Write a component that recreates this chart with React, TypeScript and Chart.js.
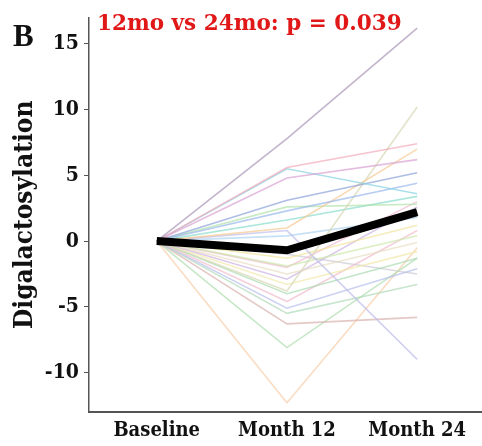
import { useEffect, useRef } from 'react';
import { Chart, registerables } from 'chart.js';
Chart.register(...registerables);

const timepoints = ['Baseline', 'Month 12', 'Month 24'];
const yTicks = [-10, -5, 0, 5, 10, 15];
const BASELINE = 0;
const month12 = [7.8, 5.6, 4.8, 5.5, 3.1, 2.3, 1.0, -3.8, 2.6, 1.6, 0.8, -1.3, -1.9, -2.5, -2.9, -3.3, -4.0, -4.6, -5.1, -5.5, -6.3, -8.1, -12.3, 0.4, -2.0, -1.0];
const month24 = [16.2, 7.4, 6.2, 3.6, 5.2, 4.4, 7.0, 10.2, 2.8, 3.4, -9.0, 1.2, 0.4, -0.1, 2.6, -0.8, -1.3, 0.8, -2.1, -3.3, -5.8, -1.3, -0.5, 1.8, 3.0, -2.5];
const lineColors = ['#a592b5', '#f2a8b8', '#d8a0d4', '#86d2e2', '#8a9fd8', '#98b6ea', '#f5c890', '#d6d6b4', '#b0e2a8', '#88dccc', '#bcbcea', '#f0e49a', '#cce8a8', '#e8dcc0', '#cbb0e2', '#f0e8a8', '#a8dab0', '#f0bccc', '#b4bcea', '#b0dab8', '#d8b0ac', '#acdcac', '#f8cca8', '#acd2f0', '#f0b8d4', '#cacad2'];
const meanValues = [0, -0.7, 2.2];
const titleText = '12mo vs 24mo: p = 0.039';
const panelLabel = 'B';

export default function App() {
  const ref = useRef<HTMLCanvasElement>(null);
  useEffect(() => {
    if (!ref.current) return;
    const datasets: any[] = [
      {
        data: meanValues.map((v, i) => ({ x: i, y: v })),
        borderColor: '#000',
        borderWidth: 8,
        pointRadius: 0,
        borderCapStyle: 'butt',
        borderJoinStyle: 'miter',
        order: 0,
      },
    ];
    month12.forEach((v, i) => {
      datasets.push({
        data: [
          { x: 0, y: BASELINE },
          { x: 1, y: v },
          { x: 2, y: month24[i] },
        ],
        borderColor: lineColors[i % lineColors.length] + 'b0',
        borderWidth: 1.6,
        pointRadius: 0,
        order: 1,
      });
    });
    const textPlugin = {
      id: 'texts',
      afterDraw(chart: any) {
        const ctx = chart.ctx;
        ctx.save();
        ctx.fillStyle = '#111';
        ctx.font = 'bold 31px "Liberation Serif"';
        ctx.textBaseline = 'alphabetic';
        ctx.textAlign = 'left';
        ctx.fillText(panelLabel, 13, 46);
        ctx.fillStyle = '#e01818';
        let size = 20;
        ctx.font = `bold ${size}px "DejaVu Serif"`;
        const w = ctx.measureText(titleText).width;
        size = size * 305 / w;
        ctx.font = `bold ${size}px "DejaVu Serif"`;
        ctx.fillText(titleText, 97, 30);
        ctx.restore();
      },
    };
    const chart = new Chart(ref.current, {
      type: 'line',
      data: { datasets },
      plugins: [textPlugin],
      options: {
        animation: false,
        responsive: false,
        layout: { padding: { top: 12, left: 0, right: 1, bottom: 0 } },
        plugins: { legend: { display: false }, tooltip: { enabled: false }, title: { display: false } },
        scales: {
          x: {
            type: 'linear',
            min: -0.52,
            max: 2.49,
            afterBuildTicks: (s: any) => {
              s.ticks = timepoints.map((_, i) => ({ value: i }));
            },
            afterFit: (s: any) => {
              s.height = 34;
            },
            ticks: {
              callback: (v: any) => timepoints[v as number] ?? '',
              font: { family: '"DejaVu Serif Condensed"', weight: 'bold', size: 20 },
              color: '#111',
              padding: 7,
              maxRotation: 0,
              autoSkip: false,
            },
            grid: { display: false, drawTicks: false },
            border: { color: '#555', width: 2 },
          },
          y: {
            min: -13,
            max: 17,
            afterBuildTicks: (s: any) => {
              s.ticks = yTicks.map((v) => ({ value: v }));
            },
            afterFit: (s: any) => {
              s.width = 89;
            },
            ticks: {
              font: { family: '"DejaVu Serif Condensed"', weight: 'bold', size: 21 },
              color: '#111',
              padding: 5,
            },
            grid: { drawOnChartArea: false, drawTicks: true, tickLength: 5, color: '#555', lineWidth: 1 },
            border: { color: '#555', width: 1.5 },
            title: {
              display: true,
              text: 'Digalactosylation',
              font: { family: '"DejaVu Serif Condensed"', weight: 'bold', size: 26 },
              color: '#111',
              padding: { top: 10, bottom: 0 },
            },
          },
        },
      },
    });
    return () => chart.destroy();
  }, []);
  return (
    <div style={{ position: 'fixed', left: 0, top: 0, width: 482, height: 446, background: '#fff' }}>
      <canvas ref={ref} width={482} height={446} style={{ width: 482, height: 446 }} />
    </div>
  );
}
